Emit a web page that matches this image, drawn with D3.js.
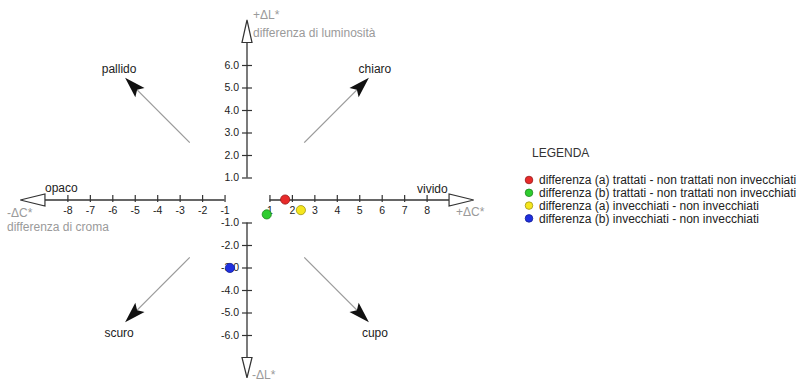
<!DOCTYPE html>
<html><head><meta charset="utf-8">
<script src="https://cdn.jsdelivr.net/npm/d3@7"></script>
<style>
html,body{margin:0;padding:0;background:#fff;}
svg{display:block;font-family:"Liberation Sans",Arial,sans-serif;}
</style></head>
<body>
<svg id="chart" width="801" height="381"></svg>
<script>
// ---- data ----
const seriesNames = [
  "differenza (a) trattati - non trattati non invecchiati",
  "differenza (b) trattati - non trattati non invecchiati",
  "differenza (a) invecchiati - non invecchiati",
  "differenza (b) invecchiati - non invecchiati"
];
const seriesColors = ["#e82a2a", "#2ecc2e", "#f5e61e", "#1f2fe0"];
const deltaC = [1.7, 0.88, 2.4, -0.76];
const deltaL = [0.02, -0.64, -0.45, -3.02];

const xTicksNeg = [-8, -7, -6, -5, -4, -3, -2, -1];
const xTicksPos = [1, 2, 3, 4, 5, 6, 7, 8];
const yTicksPos = [1, 2, 3, 4, 5, 6];
const yTicksNeg = [-1, -2, -3, -4, -5, -6];

const dirLabels = ["pallido", "chiaro", "scuro", "cupo"];
const dirSignC = [-1, 1, -1, 1];
const dirSignL = [1, 1, -1, -1];
const dirStart = 2.55, dirEnd = 5.43;

const axisTexts = {
  posL: "+\u0394L*", posLsub: "differenza di luminosit\u00e0",
  negL: "-\u0394L*",
  posC: "+\u0394C*", negC: "-\u0394C*", negCsub: "differenza di croma",
  left: "opaco", right: "vivido", legendTitle: "LEGENDA"
};

// ---- drawing ----
const svg = d3.select("#chart");
const x = d3.scaleLinear().domain([-10, 10]).range([22.5, 471.5]);
const y = d3.scaleLinear().domain([-10, 10]).range([425, -25]);
const X0 = x(0), Y0 = y(0);
const axisColor = "#333";
const grey = "#9a9a9a";

// diagonal direction arrows
dirLabels.forEach((lab, i) => {
  const sx = dirSignC[i], sy = dirSignL[i];
  const x1 = x(sx * dirStart), y1 = y(sy * dirStart);
  const tx = x(sx * dirEnd), ty = y(sy * dirEnd);
  const dx = tx - x1, dy = ty - y1, len = Math.hypot(dx, dy);
  const ux = dx / len, uy = dy / len;
  const hl = 21, hw = 6.5;
  const bx = tx - ux * hl, by = ty - uy * hl;
  svg.append("line").attr("x1", x1).attr("y1", y1).attr("x2", bx + ux * 4).attr("y2", by + uy * 4)
    .attr("stroke", grey).attr("stroke-width", 1.3);
  const nx = -uy, ny = ux;
  const notchx = tx - ux * (hl - 4), notchy = ty - uy * (hl - 4);
  svg.append("path")
    .attr("d", `M${tx},${ty}L${bx + nx * hw},${by + ny * hw}L${notchx},${notchy}L${bx - nx * hw},${by - ny * hw}Z`)
    .attr("fill", "#111");
  svg.append("text").attr("x", tx + sx * 6).attr("y", sy > 0 ? ty - 5 : ty + 15)
    .attr("text-anchor", "middle").attr("font-size", 12).attr("fill", "#222").text(lab);
});

// axis lines
function line(x1, y1, x2, y2) {
  svg.append("line").attr("x1", x1).attr("y1", y1).attr("x2", x2).attr("y2", y2)
    .attr("stroke", axisColor).attr("stroke-width", 1.3);
}
line(x(-9), Y0, x(-1), Y0);
line(x(1), Y0, x(9), Y0);
line(X0, y(7), X0, y(1));
line(X0, y(-1), X0, y(-7));

// open arrowheads
function tri(pts) {
  svg.append("path").attr("d", "M" + pts.map(p => p.join(",")).join("L") + "Z")
    .attr("fill", "#fff").attr("stroke", axisColor).attr("stroke-width", 1.2);
}
tri([[x(-10.1), Y0], [x(-9), Y0 - 6], [x(-9), Y0 + 6]]);
tri([[x(10.1), Y0], [x(9), Y0 - 6], [x(9), Y0 + 6]]);
tri([[X0, y(8)], [X0 - 5, y(7)], [X0 + 5, y(7)]]);
tri([[X0, y(-7.9)], [X0 - 5, y(-7)], [X0 + 5, y(-7)]]);

// horizontal ticks via d3 axis
function hAxis(vals) {
  const g = svg.append("g").attr("transform", `translate(0,${Y0})`)
    .call(d3.axisBottom(x).tickValues(vals).tickSize(-5).tickPadding(7).tickFormat(d => String(d)));
  g.select(".domain").remove();
  g.selectAll(".tick line").attr("y1", 2).attr("stroke", axisColor).attr("stroke-width", 1.2);
  g.selectAll(".tick text").attr("font-size", 10.5).attr("font-family", null).attr("fill", "#222");
}
hAxis(xTicksNeg);
hAxis(xTicksPos);

function vAxis(vals) {
  const g = svg.append("g").attr("transform", `translate(${X0},0)`)
    .call(d3.axisLeft(y).tickValues(vals).tickSize(5).tickPadding(3).tickFormat(d => d.toFixed(1)));
  g.select(".domain").remove();
  g.selectAll(".tick line").attr("x1", 5).attr("stroke", axisColor).attr("stroke-width", 1.2);
  g.selectAll(".tick text").attr("font-size", 10.5).attr("font-family", null).attr("fill", "#222");
}
vAxis(yTicksPos);
vAxis(yTicksNeg);

// axis titles
function txt(t, px, py, opts = {}) {
  svg.append("text").attr("x", px).attr("y", py).attr("font-size", opts.size || 12)
    .attr("fill", opts.fill || "#222").attr("text-anchor", opts.anchor || "start").text(t);
}
txt(axisTexts.posL, X0 + 6, 19, {fill: grey});
txt(axisTexts.posLsub, X0 + 6, 37, {fill: grey});
txt(axisTexts.negL, X0 + 5, 379, {fill: grey});
txt(axisTexts.negC, 7, 217, {fill: grey});
txt(axisTexts.negCsub, 7, 231, {fill: grey});
txt(axisTexts.posC, 456, 216, {fill: grey});
txt(axisTexts.left, 45, 192);
txt(axisTexts.right, 417, 193);

// data points
svg.append("g").selectAll("circle").data(deltaC).join("circle")
  .attr("cx", d => x(d)).attr("cy", (d, i) => y(deltaL[i])).attr("r", 4.6)
  .attr("fill", (d, i) => seriesColors[i])
  .attr("stroke", (d, i) => d3.color(seriesColors[i]).darker(1.2)).attr("stroke-width", 0.8);

// legend
txt(axisTexts.legendTitle, 532, 157, {fill: "#333"});
const lg = svg.append("g").selectAll("g").data(seriesNames).join("g")
  .attr("transform", (d, i) => `translate(529,${180 + i * 12.8})`);
lg.append("circle").attr("r", 3.8).attr("fill", (d, i) => seriesColors[i])
  .attr("stroke", (d, i) => d3.color(seriesColors[i]).darker(1.2)).attr("stroke-width", 0.8);
lg.append("text").attr("x", 10).attr("y", 4.2).attr("font-size", 12).attr("fill", "#222").text(d => d);
</script>
</body></html>
